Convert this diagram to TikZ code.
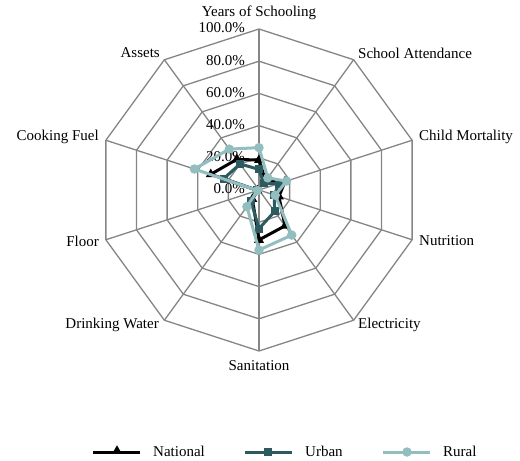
\documentclass[tikz,border=0pt]{standalone}
\usepackage{fontspec}
\setmainfont{Liberation Serif}
\usepackage{xcolor}
\usetikzlibrary{shapes.geometric}

\definecolor{urbancol}{HTML}{2D5A5E}
\definecolor{ruralcol}{HTML}{93BEC0}
\definecolor{gridcol}{HTML}{858585}

\begin{document}
\begin{tikzpicture}[x=1pt,y=1pt,font=\fontsize{15}{18}\selectfont,
    gridline/.style={draw=gridcol,line width=1.3pt},
    series/.style={line width=3pt,line join=round},
    natmark/.style={regular polygon,regular polygon sides=3,fill=black,
        inner sep=0pt,minimum size=11.5pt},
    urbmark/.style={rectangle,fill=urbancol,inner sep=0pt,minimum size=8pt},
    rurmark/.style={circle,fill=ruralcol,inner sep=0pt,minimum size=9.5pt},
    catlabel/.style={inner sep=0pt}]
    \useasboundingbox (-259,-271) rectangle (261,190);

    % 画网格(十边形)
    \foreach \k in {20,40,...,100} {
        \draw[gridline] (90:1.61*\k) \foreach \j in {1,...,9} { -- ({90-36*\j}:1.61*\k) } -- cycle;
    }
    \foreach \j in {0,...,9} {
        \coordinate (spoke\j) at ({90-36*\j}:161);
        \draw[gridline] (0,0) -- (spoke\j);
    }

    % 刻度标签
    \foreach \k in {0,20,...,100} {
        \node[catlabel,anchor=east] (tick\k) at (-14,1.61*\k+1) {\k.0\%};
    }

    % 各维度名称
    \node[catlabel] (yrs) at (0,177) {Years of Schooling};
    \node[catlabel,anchor=west] (att) at (99,137) {School Attendance};
    \node[catlabel,anchor=west] (mort) at (160,53) {Child Mortality};
    \node[catlabel,anchor=west] (nutr) at (160,-51) {Nutrition};
    \node[catlabel,anchor=west] (elec) at (99,-135) {Electricity};
    \node[catlabel] (sani) at (0,-176) {Sanitation};
    \node[catlabel,anchor=east] (water) at (-100,-135) {Drinking Water};
    \node[catlabel,anchor=east] (floor) at (-160,-51) {Floor};
    \node[catlabel,anchor=east] (fuel) at (-160,53) {Cooking Fuel};
    \node[catlabel,anchor=east] (assets) at (-99,137) {Assets};

    % 数据点
    \foreach \v [count=\i] in {18.6,7,17,13,27.5,31,7,1,31.5,23.5}
        \coordinate (nat\i) at ({90-36*(\i-1)}:1.61*\v);
    \foreach \v [count=\i] in {12.8,5,13,10,16.5,24,8.5,1,23,20}
        \coordinate (urb\i) at ({90-36*(\i-1)}:1.61*\v);
    \foreach \v [count=\i] in {26.3,9.3,18,10.6,34.6,37.3,12.8,1,42.2,31.4}
        \coordinate (rur\i) at ({90-36*(\i-1)}:1.61*\v);

    % 三条折线
    \draw[series,black] (nat1) \foreach \i in {2,...,10} { -- (nat\i) } -- cycle;
    \foreach \i in {1,...,10} \node[natmark] (natm\i) at (nat\i) {};
    \draw[series,urbancol] (urb1) \foreach \i in {2,...,10} { -- (urb\i) } -- cycle;
    \foreach \i in {1,...,10} \node[urbmark] (urbm\i) at (urb\i) {};
    \draw[series,ruralcol] (rur1) \foreach \i in {2,...,10} { -- (rur\i) } -- cycle;
    \foreach \i in {1,...,10} \node[rurmark] (rurm\i) at (rur\i) {};

    % 图例
    \coordinate (natL) at (-166,-262);
    \coordinate (natR) at (-119,-262);
    \draw[series,black] (natL) -- (natR);
    \node[natmark] (natkey) at (-142,-261) {};
    \node[catlabel,anchor=west] (natname) at (-106,-261) {National};

    \coordinate (urbL) at (-14,-262);
    \coordinate (urbR) at (33,-262);
    \draw[series,urbancol] (urbL) -- (urbR);
    \node[urbmark] (urbkey) at (9.5,-262) {};
    \node[catlabel,anchor=west] (urbname) at (46,-261) {Urban};

    \coordinate (rurL) at (124,-262);
    \coordinate (rurR) at (171,-262);
    \draw[series,ruralcol] (rurL) -- (rurR);
    \node[rurmark] (rurkey) at (148,-262) {};
    \node[catlabel,anchor=west] (rurname) at (184,-261) {Rural};
\end{tikzpicture}
\end{document}
